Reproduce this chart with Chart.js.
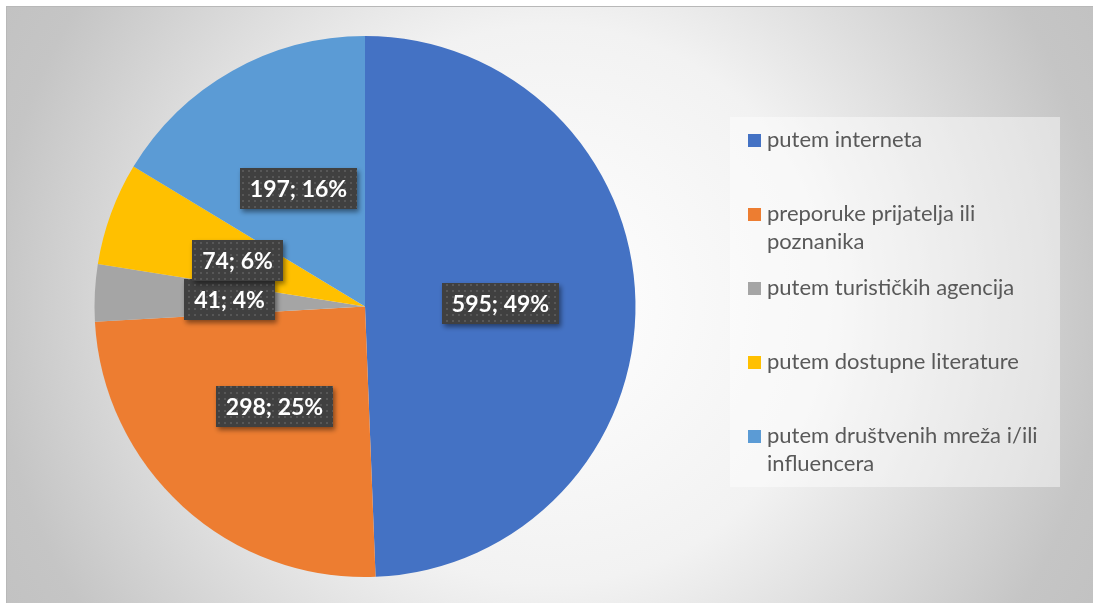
<!DOCTYPE html>
<html>
<head>
<meta charset="utf-8">
<script src="https://cdn.jsdelivr.net/npm/chart.js@4.4.0/dist/chart.umd.min.js"></script>
<style>
  html, body { margin: 0; padding: 0; background: #fff; }
  canvas { display: block; }
</style>
</head>
<body>
<canvas id="pie" width="1093" height="603"></canvas>
<script>
const categories = [
  "putem interneta",
  "preporuke prijatelja ili poznanika",
  "putem turističkih agencija",
  "putem dostupne literature",
  "putem društvenih mreža i/ili influencera"
];
const counts = [595, 298, 41, 74, 197];
const percents = ["49%", "25%", "4%", "6%", "16%"];
const colors = ["#4472C4", "#ED7D31", "#A5A5A5", "#FFC000", "#5B9BD5"];

// dark box with little grey dots, like the excel label fill
function dotPattern(ctx) {
  const tile = document.createElement("canvas");
  tile.width = 6;
  tile.height = 6;
  const t = tile.getContext("2d");
  t.fillStyle = "#404040";
  t.fillRect(0, 0, 6, 6);
  t.fillStyle = "#575757";
  t.fillRect(2, 2, 2, 2);
  return ctx.createPattern(tile, "repeat");
}

function wrapText(ctx, text, maxWidth) {
  const words = text.split(" ");
  const lines = [];
  let line = "";
  words.forEach(word => {
    const test = line ? `${line} ${word}` : word;
    if (line && ctx.measureText(test).width > maxWidth) {
      lines.push(line);
      line = word;
    } else {
      line = test;
    }
  });
  if (line) lines.push(line);
  return lines;
}

const background = {
  id: "background",
  beforeDraw(chart) {
    const { ctx, width, height } = chart;
    ctx.save();
    ctx.fillStyle = "#fff";
    ctx.fillRect(0, 0, width, height);
    const cx = (6 + width) / 2;
    const cy = (6 + height) / 2;
    const g = ctx.createRadialGradient(cx, cy, 0, cx, cy, Math.hypot(width - cx, height - cy));
    g.addColorStop(0, "#ffffff");
    g.addColorStop(0.45, "#f2f2f2");
    g.addColorStop(0.9, "#c5c5c5");
    g.addColorStop(1, "#c2c2c2");
    ctx.fillStyle = g;
    ctx.fillRect(6, 6, width - 6, height - 6);
    ctx.strokeStyle = "#b8b8b8";
    ctx.lineWidth = 1;
    ctx.strokeRect(6.5, 6.5, width, height);
    ctx.restore();
  }
};

const sideLegend = {
  id: "sideLegend",
  afterDraw(chart) {
    const { ctx } = chart;
    const left = 730, top = 117, right = 1060, bottom = 487;
    ctx.save();
    ctx.fillStyle = "rgba(255, 255, 255, 0.45)";
    ctx.fillRect(left, top, right - left, bottom - top);
    ctx.font = "22px Lato";
    ctx.textBaseline = "middle";
    ctx.textAlign = "left";
    categories.forEach((name, i) => {
      const y = top + 23 + i * 74;
      ctx.fillStyle = colors[i];
      ctx.fillRect(748, Math.round(y - 6), 13, 13);
      ctx.fillStyle = "#595959";
      wrapText(ctx, name, 285).forEach((line, j) => {
        ctx.fillText(line, 767, y + j * 28);
      });
    });
    ctx.restore();
  }
};

const valueLabels = {
  id: "valueLabels",
  afterDatasetsDraw(chart) {
    const { ctx } = chart;
    const pattern = dotPattern(ctx);
    const arcs = chart.getDatasetMeta(0).data;
    ctx.save();
    ctx.font = "bold 23px Lato";
    ctx.textAlign = "center";
    ctx.textBaseline = "middle";
    arcs.forEach((arc, i) => {
      const { x, y } = arc.getCenterPoint();
      const text = `${counts[i]}; ${percents[i]}`;
      const w = Math.round(ctx.measureText(text).width + 20);
      const h = 41;
      const bx = Math.round(x - w / 2);
      const by = Math.round(y - h / 2);
      ctx.save();
      ctx.shadowColor = "rgba(0, 0, 0, 0.45)";
      ctx.shadowBlur = 5;
      ctx.shadowOffsetX = 2;
      ctx.shadowOffsetY = 3;
      ctx.fillStyle = pattern;
      ctx.fillRect(bx, by, w, h);
      ctx.restore();
      ctx.fillStyle = "#ffffff";
      ctx.fillText(text, bx + w / 2, by + h / 2 + 1);
    });
    ctx.restore();
  }
};

new Chart(document.getElementById("pie"), {
  type: "pie",
  data: {
    labels: categories,
    datasets: [
      {
        data: counts,
        backgroundColor: colors,
        borderWidth: 0,
        hoverOffset: 0,
      },
    ],
  },
  options: {
    responsive: false,
    animation: false,
    events: [],
    layout: {
      padding: { left: 94.5, right: 457.5, top: 36, bottom: 26 },
    },
    plugins: {
      legend: { display: false },
      tooltip: { enabled: false },
    },
  },
  plugins: [background, sideLegend, valueLabels],
});
</script>
</body>
</html>
